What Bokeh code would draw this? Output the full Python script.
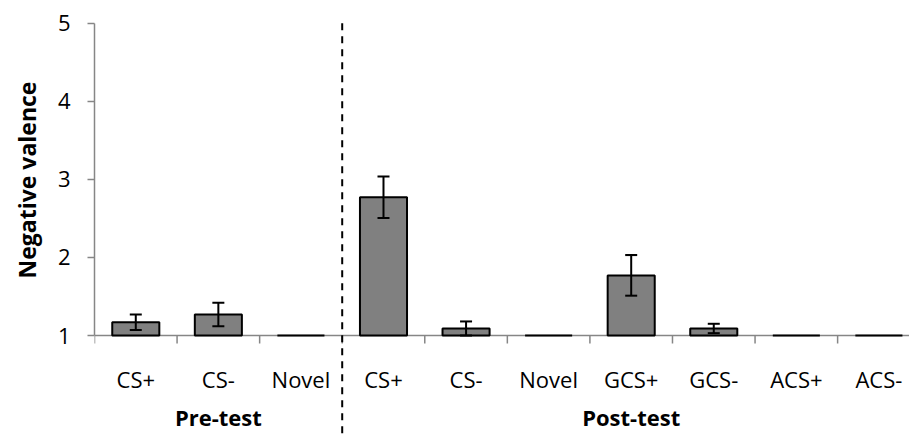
from bokeh.plotting import figure
from bokeh.models import (ColumnDataSource, Range1d, FixedTicker, Span, Whisker,
                          TeeHead, Title)
from bokeh.core.properties import value
from bokeh.embed import file_html
from bokeh.resources import INLINE
import numpy as np

# ---- data ----
categories = ["CS+", "CS-", "Novel", "CS+", "CS-", "Novel", "GCS+", "GCS-", "ACS+", "ACS-"]
phases = ["Pre-test"] * 3 + ["Post-test"] * 7
means = [1.17, 1.27, 1.00, 2.77, 1.09, 1.00, 1.77, 1.09, 1.00, 1.00]
errors = [0.10, 0.15, 0.00, 0.265, 0.09, 0.00, 0.26, 0.06, 0.00, 0.00]
group_names = ["Pre-test", "Post-test"]
y_ticks = [1, 2, 3, 4, 5]

FONT = "Open Sans"
GRAY_AXIS = "#868686"

n = len(categories)
xs = np.arange(n) + 0.5
src = ColumnDataSource(dict(x=xs, top=means, cat=categories))

px_per_unit = 78.08
y_start = 1 - 101 / px_per_unit
y_end = 1 + 335 / px_per_unit
cat_px = 82.67
x_end = 816 / cat_px

p = figure(width=909, height=436, output_backend="svg", toolbar_location=None,
           x_range=Range1d(0, x_end), y_range=Range1d(y_start, y_end),
           min_border_left=93, min_border_right=0, min_border_top=0, min_border_bottom=0)
p.outline_line_color = None
p.grid.visible = False
p.xaxis.visible = False

yax = p.yaxis[0]
yax.ticker = FixedTicker(ticks=y_ticks)
yax.bounds = (1, 5)
yax.axis_line_color = GRAY_AXIS
yax.axis_line_width = 1.5
yax.major_tick_line_color = GRAY_AXIS
yax.major_tick_line_width = 1.5
yax.major_tick_out = 7
yax.major_tick_in = 0
yax.minor_tick_line_color = None
yax.major_label_standoff = 17
yax.major_label_text_font = FONT
yax.major_label_text_font_size = "22px"
yax.major_label_text_color = "black"

p.add_layout(Title(text="Negative valence", align="left", vertical_align="top",
                   text_font=FONT, text_font_size="23px", text_font_style="bold",
                   text_color="black", standoff=20, offset=158), "left")

# x baseline at y=1
p.add_layout(Span(location=1, dimension="width", line_color=GRAY_AXIS,
                  line_width=1.5, level="underlay"))

# category boundary ticks
bounds_x = np.arange(n + 1)
p.segment(x0=bounds_x, y0=[1] * (n + 1), x1=bounds_x, y1=[1 - 8 / px_per_unit] * (n + 1),
          line_color=GRAY_AXIS, line_width=1.5)

# bars
p.vbar(x="x", width=0.57, bottom=1, top="top", source=src,
       fill_color="#808080", line_color="black", line_width=2)

# error bars
has_err = [i for i, e in enumerate(errors) if e > 0]
err_src = ColumnDataSource(dict(
    x=[xs[i] for i in has_err],
    upper=[means[i] + errors[i] for i in has_err],
    lower=[means[i] - errors[i] for i in has_err],
))
p.add_layout(Whisker(base="x", upper="upper", lower="lower", source=err_src,
                     line_color="black", line_width=2, level="overlay",
                     upper_head=TeeHead(size=12, line_color="black", line_width=2),
                     lower_head=TeeHead(size=12, line_color="black", line_width=2)))

# dashed separator between phases
sep = phases.index("Post-test")
p.segment(x0=[sep], y0=[5], x1=[sep], y1=[y_start], line_color="black",
          line_width=2, line_dash="7 6")

# category labels
p.text(x="x", y=1, text="cat", source=src, text_font=value(FONT),
       text_font_size="22px", text_align="center", text_baseline="alphabetic",
       y_offset=43, text_color="black")

# group labels
gx = []
for g in group_names:
    idx = [i for i, ph in enumerate(phases) if ph == g]
    gx.append((idx[0] + idx[-1] + 1) / 2)
p.text(x=gx, y=[1, 1], text=group_names, text_font=value(FONT),
       text_font_size="22px", text_font_style="bold", text_align="center",
       text_baseline="alphabetic", y_offset=81, text_color="black")

open("out.html", "w").write(file_html(p, INLINE))
